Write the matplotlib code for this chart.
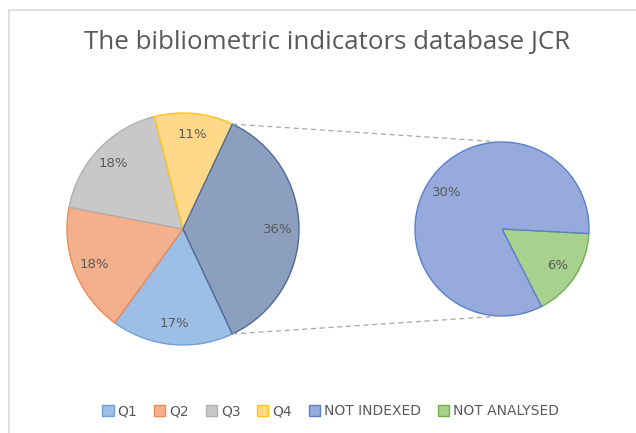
import matplotlib.pyplot as plt
import numpy as np

# main pie data (percent of all journals)
main_labels = ['Q1', 'Q2', 'Q3', 'Q4']
main_values = [17, 18, 18, 11]
# split of the "other" slice
other_labels = ['NOT INDEXED', 'NOT ANALYSED']
other_values = [30, 6]

main_colors = ['#9DBFE6', '#F4B08D', '#C8C8C8', '#FFD88A']
main_edges = ['#6FA0D8', '#EE8A55', '#B0B0B0', '#FFC21A']
other_color = '#8C9FBE'
other_edge = '#4F6B93'
sub_colors = ['#97AADC', '#A9D18E']
sub_edges = ['#5B7FCB', '#74AD4E']

text_col = '#595959'

fig = plt.figure(figsize=(6.36, 4.33), dpi=100)
ax = fig.add_axes([0, 0, 1, 1])
ax.set_xlim(0, 636)
ax.set_ylim(0, 433)
ax.set_aspect('equal')
ax.axis('off')

# chart frame (left and top edges visible)
ax.plot([9, 9, 636], [0, 423, 423], color='#D9D9D9', lw=1.2, clip_on=False)

ax.text(327, 391, 'The bibliometric indicators database JCR', ha='center', va='center',
        fontsize=18.6, color=text_col, family='Open Sans')

# main pie: other slice centred on the right
other_total = sum(other_values)
vals = main_values + [other_total]
total = sum(vals)
other_angle = other_total / total * 360
c1 = (183, 204)
r1 = 116
wedges, texts = ax.pie(vals, colors=main_colors + [other_color], startangle=-other_angle / 2,
                       counterclock=False, center=c1, radius=r1,
                       labels=['%d%%' % v for v in vals], labeldistance=0.82,
                       wedgeprops=dict(linewidth=1.0), textprops=dict(color=text_col, fontsize=9.5))
for w, ec in zip(wedges, main_edges + [other_edge]):
    w.set_edgecolor(ec)
for t in texts:
    t.set_ha('center')
    t.set_va('center')

# secondary pie
c2 = (502, 204)
r2 = 87
sub_order = other_values[::-1]
wedges2, texts2 = ax.pie(sub_order, colors=sub_colors[::-1], startangle=-3, counterclock=False,
                         center=c2, radius=r2, labels=['%d%%' % v for v in sub_order],
                         labeldistance=0.76, wedgeprops=dict(linewidth=1.0),
                         textprops=dict(color=text_col, fontsize=9.5))
for w, ec in zip(wedges2, sub_edges[::-1]):
    w.set_edgecolor(ec)
for t in texts2:
    t.set_ha('center')
    t.set_va('center')

# connector lines
a = np.deg2rad(other_angle / 2)
ax.plot([c1[0] + r1 * np.cos(a), c2[0]], [c1[1] + r1 * np.sin(a), c2[1] + r2],
        color='#A6A6A6', lw=0.9, ls=(0, (4, 3)))
ax.plot([c1[0] + r1 * np.cos(a), c2[0]], [c1[1] - r1 * np.sin(a), c2[1] - r2],
        color='#A6A6A6', lw=0.9, ls=(0, (4, 3)))

ax.set_xlim(0, 636)
ax.set_ylim(0, 433)

# legend
handles = [plt.Rectangle((0, 0), 1, 1, fc=fc, ec=ec, lw=1)
           for fc, ec in zip(main_colors + sub_colors, main_edges + sub_edges)]
ax.legend(handles, main_labels + other_labels, loc='center', bbox_to_anchor=(0.52, 0.05),
          ncol=6, frameon=False, fontsize=10, labelcolor=text_col, handlelength=0.8,
          handleheight=0.8, handletextpad=0.3, columnspacing=1.2)

fig.savefig('out.png', dpi=100)
